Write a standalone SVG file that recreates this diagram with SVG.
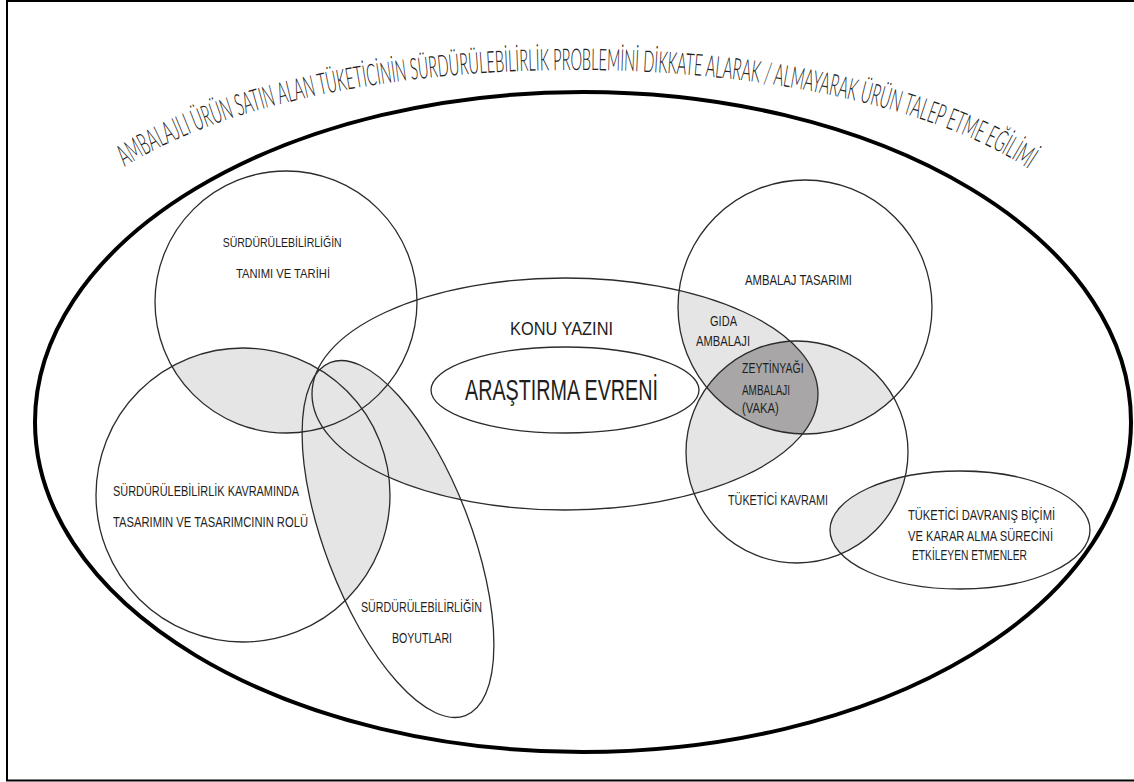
<svg xmlns="http://www.w3.org/2000/svg" width="1134" height="782" viewBox="0 0 1134 782">
<style>
.shape{fill:none;stroke:#2b2b2b;stroke-width:1.3}
.lt{fill:#e5e5e6;stroke:none}
.dk{fill:#a8a6a6;stroke:none}
.lbl{font-family:"Liberation Sans Narrow","Liberation Sans",Arial,sans-serif;font-size:14px;fill:#1e1e1e}
.sm{font-size:13px}
.md{font-size:19px}
.lg{font-size:29px}
.title{font-family:Lato,"Open Sans","Liberation Sans",sans-serif;font-weight:300;font-size:30px;fill:#222}
</style>
<defs>
<circle id="sTanim" cx="286" cy="302" r="131"/>
<circle id="sRol" cx="243" cy="495" r="147"/>
<ellipse id="sBoyut" cx="0" cy="0" rx="189" ry="73" transform="translate(398 539) rotate(69.1)"/>
<ellipse id="sKonu" cx="565" cy="394" rx="253" ry="116"/>
<ellipse id="sEvren" cx="565" cy="390" rx="134" ry="43"/>
<circle id="sAmb" cx="805" cy="307" r="127"/>
<circle id="sTuk" cx="797" cy="452" r="111"/>
<ellipse id="sDav" cx="960" cy="530" rx="130" ry="59"/>
<clipPath id="cTanim"><use href="#sTanim"/></clipPath>
<clipPath id="cRol"><use href="#sRol"/></clipPath>
<clipPath id="cKonu"><use href="#sKonu"/></clipPath>
<clipPath id="cAmb"><use href="#sAmb"/></clipPath>
<clipPath id="cTuk"><use href="#sTuk"/></clipPath>
<path id="titlePath" d="M 125,166.8 A 520 194 0 0 1 1040,177.2" fill="none"/>
</defs>
<rect x="0" y="0" width="1134" height="782" fill="#fff"/>
<rect x="7" y="1" width="1140" height="779.5" fill="none" stroke="#000" stroke-width="2"/>

<g id="overlaps">
<g clip-path="url(#cTanim)"><use href="#sRol" class="lt"/></g>
<g clip-path="url(#cRol)"><use href="#sBoyut" class="lt"/></g>
<g clip-path="url(#cKonu)"><use href="#sBoyut" class="lt"/></g>
<g clip-path="url(#cTanim)"><use href="#sBoyut" class="lt"/></g>
<g clip-path="url(#cKonu)"><use href="#sAmb" class="lt"/></g>
<g clip-path="url(#cKonu)"><use href="#sTuk" class="lt"/></g>
<g clip-path="url(#cAmb)"><use href="#sTuk" class="lt"/></g>
<g clip-path="url(#cTuk)"><use href="#sDav" class="lt"/></g>
<g clip-path="url(#cKonu)"><g clip-path="url(#cAmb)"><use href="#sTuk" class="dk"/></g></g>
</g>

<g id="universe">
<ellipse cx="583" cy="422" rx="548" ry="330" fill="none" stroke="#000" stroke-width="4"/>
<text class="title"><textPath href="#titlePath" textLength="935" lengthAdjust="spacingAndGlyphs">AMBALAJLI ÜRÜN SATIN ALAN TÜKETİCİNİN SÜRDÜRÜLEBİLİRLİK PROBLEMİNİ DİKKATE ALARAK / ALMAYARAK ÜRÜN TALEP ETME EĞİLİMİ</textPath></text>
</g>

<g id="node-tanim">
<use href="#sTanim" class="shape"/>
<text class="lbl sm" x="222.7" y="247" textLength="119" lengthAdjust="spacingAndGlyphs">SÜRDÜRÜLEBİLİRLİĞİN</text>
<text class="lbl sm" x="236" y="278" textLength="94" lengthAdjust="spacingAndGlyphs">TANIMI VE TARİHİ</text>
</g>
<g id="node-rol">
<use href="#sRol" class="shape"/>
<text class="lbl" x="113" y="496" textLength="186" lengthAdjust="spacingAndGlyphs">SÜRDÜRÜLEBİLİRLİK KAVRAMINDA</text>
<text class="lbl" x="113" y="527" textLength="195" lengthAdjust="spacingAndGlyphs">TASARIMIN VE TASARIMCININ ROLÜ</text>
</g>
<g id="node-boyut">
<use href="#sBoyut" class="shape"/>
<text class="lbl" x="361" y="612" textLength="121" lengthAdjust="spacingAndGlyphs">SÜRDÜRÜLEBİLİRLİĞİN</text>
<text class="lbl" x="392" y="643" textLength="60" lengthAdjust="spacingAndGlyphs">BOYUTLARI</text>
</g>
<g id="node-konu">
<use href="#sKonu" class="shape"/>
<text class="lbl md" x="510" y="335" textLength="103" lengthAdjust="spacingAndGlyphs">KONU YAZINI</text>
</g>
<g id="node-evren">
<use href="#sEvren" class="shape"/>
<text class="lbl lg" x="465" y="400" textLength="193" lengthAdjust="spacingAndGlyphs">ARAŞTIRMA EVRENİ</text>
</g>
<g id="node-ambalaj">
<use href="#sAmb" class="shape"/>
<text class="lbl" x="745" y="285" textLength="107" lengthAdjust="spacingAndGlyphs">AMBALAJ TASARIMI</text>
</g>
<g id="node-gida">
<text class="lbl" x="710" y="326" textLength="27" lengthAdjust="spacingAndGlyphs">GIDA</text>
<text class="lbl" x="696" y="346" textLength="54" lengthAdjust="spacingAndGlyphs">AMBALAJI</text>
</g>
<g id="node-zeytinyagi">
<text class="lbl" x="742" y="373" textLength="61.6" lengthAdjust="spacingAndGlyphs">ZEYTİNYAĞI</text>
<text class="lbl" x="742" y="395" textLength="48" lengthAdjust="spacingAndGlyphs">AMBALAJI</text>
<text class="lbl" x="742" y="413" textLength="36.7" lengthAdjust="spacingAndGlyphs">(VAKA)</text>
</g>
<g id="node-tuketici">
<use href="#sTuk" class="shape"/>
<text class="lbl" x="728" y="505" textLength="100" lengthAdjust="spacingAndGlyphs">TÜKETİCİ KAVRAMI</text>
</g>
<g id="node-davranis">
<use href="#sDav" class="shape"/>
<text class="lbl" x="908" y="520" textLength="147" lengthAdjust="spacingAndGlyphs">TÜKETİCİ DAVRANIŞ BİÇİMİ</text>
<text class="lbl" x="908" y="541" textLength="145" lengthAdjust="spacingAndGlyphs">VE KARAR ALMA SÜRECİNİ</text>
<text class="lbl" x="912" y="560" textLength="115" lengthAdjust="spacingAndGlyphs">ETKİLEYEN ETMENLER</text>
</g>
<g id="connectors"></g>
</svg>
